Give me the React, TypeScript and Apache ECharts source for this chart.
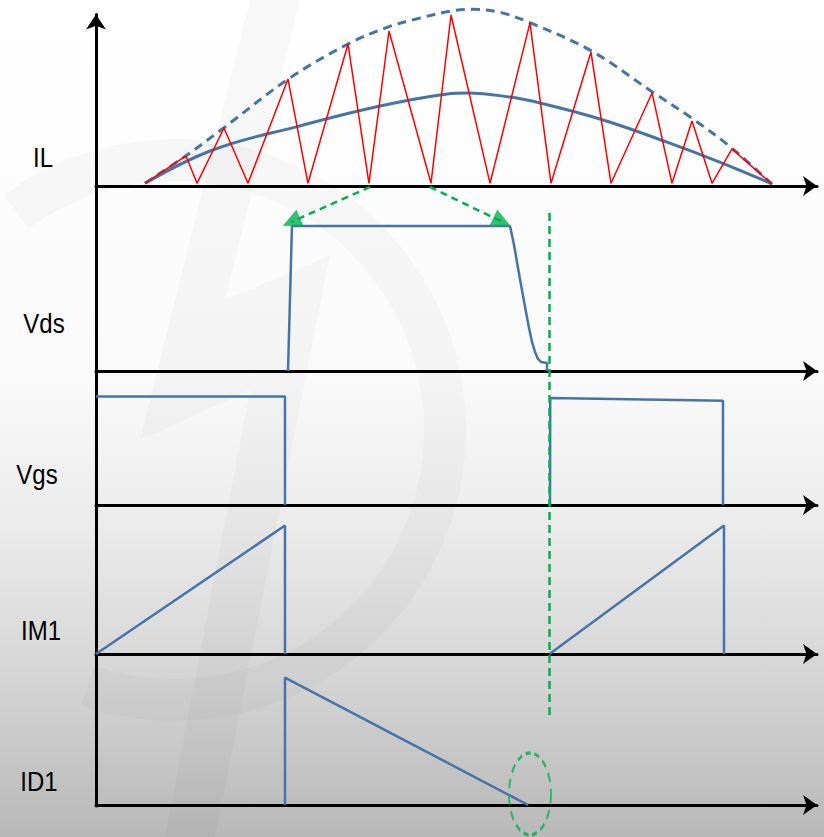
import React, { useEffect, useRef } from "react";
import * as echarts from "echarts";

// Time axis runs 0..100 across every panel; each panel's amplitude runs 0..100.

// IL: inductor current ripple (red zigzag), its peak envelope (dashed) and average (solid)
const rippleT = [6.8, 12.48, 14.01, 17.75, 21.08, 26.63, 29.4, 34.95, 37.86, 40.64, 46.46, 49.24, 54.65, 60.19, 63.11, 68.65, 71.43, 77.12, 79.89, 82.66, 85.44, 88.21, 93.76];
const rippleI = [1.5, 16.7, 1.5, 32.2, 1.5, 59.4, 1.5, 78.9, 1.5, 86.1, 1.5, 95, 1.5, 90.6, 1.5, 74.4, 1.5, 51.7, 1.5, 36.1, 1.5, 20.6, 1];
const envT = [6.8, 12.48, 17.75, 26.63, 34.95, 40.64, 44.94, 49.24, 52.15, 56.0, 60.19, 68.65, 77.12, 82.66, 88.21, 93.76];
const envI = [1.5, 16.8, 32.4, 59.3, 78.9, 88.5, 93.3, 97.2, 98.2, 96.5, 90.7, 75.2, 52.4, 37.6, 21, 1];
const avgT = [6.8, 16.2, 27.9, 39.4, 48.7, 51.5, 57.42, 61.6, 69.9, 79.2, 86.5, 93.76];
const avgI = [1.5, 20, 33, 44.4, 51.1, 51.7, 49.4, 46.1, 37.2, 24.4, 13.3, 1.2];

// Vds: fast rise, flat top, slow fall with a small tail
const vdsT = [26.63, 27.18, 57.42, 57.98, 58.53, 59.08, 59.64, 60.06, 60.47, 60.89, 61.3, 61.72, 62.55, 62.55];
const vdsV = [0, 78.4, 78.4, 68.1, 55.7, 43.8, 31.9, 23.2, 15.7, 10.3, 6.5, 4.9, 4.3, 0];

// Vgs: two gate pulses
const vgs1T = [0, 26.21, 26.21];
const vgs1V = [81, 81, 0];
const vgs2T = [62.97, 63.0, 86.96, 86.96];
const vgs2V = [0, 79.9, 77.8, 0];

// IM1: switch current ramps
const im1aT = [0, 26.21, 26.21];
const im1aV = [0, 86.2, 0];
const im1bT = [62.9, 87.1, 87.1];
const im1bV = [0, 86.2, 0];

// ID1: diode current
const id1T = [26.21, 26.21, 59.92];
const id1V = [0, 84.4, 0];

// Annotations: dashed arrows from the IL valleys to the Vds edges
const arrowFrom = [[38.0, 99.5], [46.3, 99.5]];
const arrowHead = [[27.1, 80.6], [56.3, 80.7]];
const arrowAngle = [114, -116];
const markerT = [62.9, 62.9];
const markerV = [11.5, 75.05];
const zeroCross = [60.19, 7.3];

const panelNames = ["IL", "Vds", "Vgs", "IM1", "ID1"];
const labelPos = [[43, 157], [44, 323], [37, 474], [41, 630], [39, 781]];

const zip = (t: number[], v: number[]) => t.map((x, i) => [x, v[i]]);

const BLUE = "#4674a6";
const GREEN = "#00b050";
const SHADE = "rgba(0,0,0,0.022)";

const panels = [
  { top: 6, height: 180 },
  { top: 186, height: 185 },
  { top: 371, height: 134 },
  { top: 505, height: 149 },
  { top: 654, height: 151 },
];

export default function App() {
  const ref = useRef<HTMLDivElement>(null);

  useEffect(() => {
    if (!ref.current) return;
    const chart = echarts.init(ref.current, undefined, { renderer: "svg" });

    const grids: any[] = panels.map((p) => ({ left: 96, right: 7, top: p.top, height: p.height }));
    grids.push({ left: 96, right: 7, top: 14.5, height: 791.5 });

    const xAxes: any[] = panels.map((_, i) => ({
      type: "value",
      gridIndex: i,
      min: 0,
      max: 100,
      axisLine: {
        show: true,
        onZero: false,
        symbol: ["none", "arrow"],
        symbolSize: [15, 14],
        lineStyle: { color: "#000", width: 3 },
      },
      axisTick: { show: false },
      axisLabel: { show: false },
      splitLine: { show: false },
    }));
    xAxes.push({ type: "value", gridIndex: 5, min: 0, max: 100, show: false });

    const yAxes: any[] = panels.map((_, i) => ({
      type: "value",
      gridIndex: i,
      min: 0,
      max: 100,
      show: false,
    }));
    yAxes.push({
      type: "value",
      gridIndex: 5,
      min: 0,
      max: 100,
      axisLine: {
        show: true,
        onZero: false,
        symbol: ["none", "arrow"],
        symbolSize: [15, 15],
        lineStyle: { color: "#000", width: 3 },
      },
      axisTick: { show: false },
      axisLabel: { show: false },
      splitLine: { show: false },
    });

    const line = (data: number[][], idx: number, style: any, extra: any = {}) => ({
      type: "line",
      xAxisIndex: idx,
      yAxisIndex: idx,
      data,
      symbol: "none",
      lineStyle: style,
      silent: true,
      ...extra,
    });

    const series: any[] = [
      line(zip(envT, envI), 0, { color: BLUE, width: 3, type: [9, 6] }, { smooth: 0.35 }),
      line(zip(avgT, avgI), 0, { color: BLUE, width: 3 }, { smooth: 0.4 }),
      line(zip(rippleT, rippleI), 0, { color: "#ff0000", width: 1.5 }),
      line(zip(vdsT, vdsV), 1, { color: BLUE, width: 2.5 }),
      line(zip(vgs1T, vgs1V), 2, { color: BLUE, width: 2.5 }),
      line(zip(vgs2T, vgs2V), 2, { color: BLUE, width: 2.5 }),
      line(zip(im1aT, im1aV), 3, { color: BLUE, width: 2.5 }),
      line(zip(im1bT, im1bV), 3, { color: BLUE, width: 2.5 }),
      line(zip(id1T, id1V), 4, { color: BLUE, width: 2.5 }),
      line(zip(markerT, markerV), 5, { color: GREEN, width: 2.5, type: [8, 5] }, { z: 5 }),
      {
        type: "lines",
        coordinateSystem: "cartesian2d",
        xAxisIndex: 1,
        yAxisIndex: 1,
        symbol: "none",
        silent: true,
        lineStyle: { color: GREEN, width: 2.5, type: [7, 5], opacity: 1 },
        data: arrowFrom.map((from, i) => ({ coords: [from, arrowHead[i]] })),
        z: 5,
      },
      {
        type: "scatter",
        xAxisIndex: 1,
        yAxisIndex: 1,
        symbol: "triangle",
        symbolSize: [18, 19],
        clip: false,
        silent: true,
        itemStyle: { color: GREEN },
        data: arrowHead.map((p, i) => ({ value: p, symbolRotate: arrowAngle[i] })),
        z: 6,
      },
      {
        type: "scatter",
        xAxisIndex: 4,
        yAxisIndex: 4,
        data: [zeroCross],
        symbol: "circle",
        symbolSize: [42, 82],
        clip: false,
        silent: true,
        itemStyle: {
          color: "rgba(0,0,0,0)",
          borderColor: GREEN,
          borderWidth: 2.5,
          borderType: [7, 5],
        },
        z: 5,
      },
    ];

    // faint logo watermark behind the traces
    const watermark: any[] = [
      {
        type: "arc",
        silent: true,
        z: -10,
        shape: { cx: 175, cy: 430, r: 270, startAngle: -2.2, endAngle: 1.9 },
        style: { stroke: SHADE, lineWidth: 42, fill: "none" },
      },
      {
        type: "polygon",
        silent: true,
        z: -10,
        shape: {
          points: [[250, 0], [300, 0], [225, 300], [330, 255], [215, 837], [165, 837], [250, 390], [140, 440]],
        },
        style: { fill: SHADE },
      },
    ];

    const labels = panelNames.map((name, i) => ({
      type: "text",
      x: labelPos[i][0],
      y: labelPos[i][1],
      scaleY: 1.17,
      silent: true,
      style: {
        text: name,
        fontSize: 24,
        fontFamily: "Arial, 'Liberation Sans', sans-serif",
        fill: "#000",
        align: "center",
        verticalAlign: "middle",
      },
    }));

    chart.setOption({
      animation: false,
      backgroundColor: {
        type: "linear",
        x: 0,
        y: 0,
        x2: 0,
        y2: 1,
        colorStops: [
          { offset: 0, color: "#ffffff" },
          { offset: 0.45, color: "#fafafa" },
          { offset: 0.62, color: "#ececec" },
          { offset: 0.8, color: "#d6d6d6" },
          { offset: 1, color: "#b8b8b8" },
        ],
      },
      grid: grids,
      xAxis: xAxes,
      yAxis: yAxes,
      series,
      graphic: [...watermark, ...labels],
    });

    return () => chart.dispose();
  }, []);

  return (
    <div
      ref={ref}
      style={{ position: "fixed", left: 0, top: 0, width: 824, height: 837 }}
    />
  );
}
